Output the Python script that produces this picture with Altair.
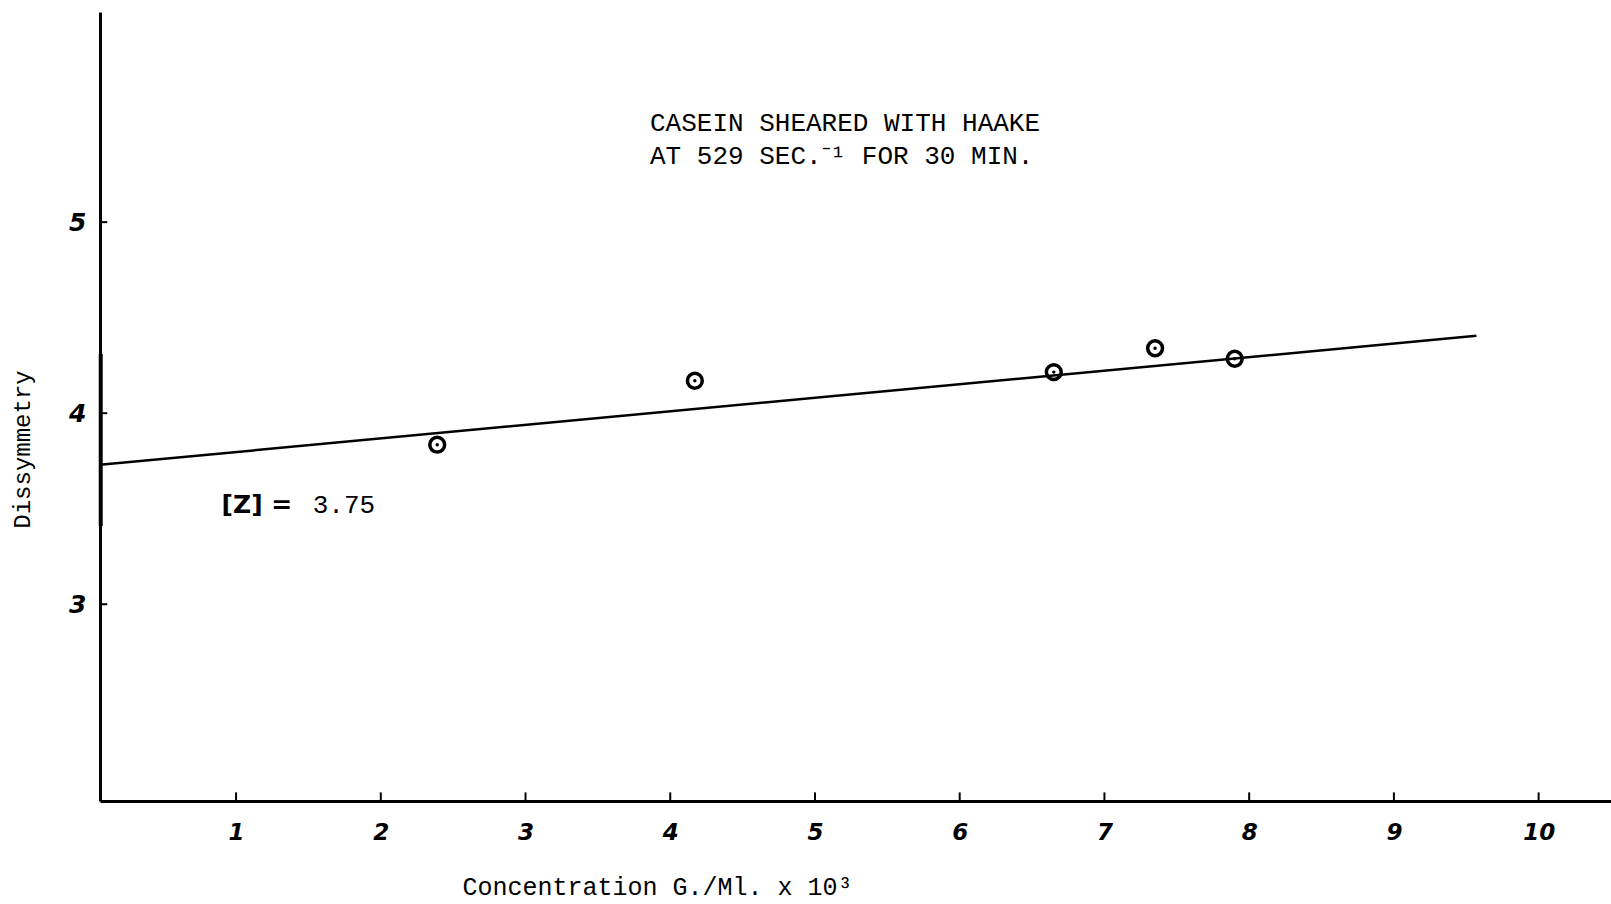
import altair as alt
import pandas as pd

# ---- data ----
conc = [2.39, 4.17, 6.65, 7.35, 7.90]
dissym = [3.835, 4.17, 4.215, 4.34, 4.285]
fit_x = [0.06, 9.57]
fit_y = [3.73, 4.405]
x_tick_vals = [1, 2, 3, 4, 5, 6, 7, 8, 9, 10]
y_tick_vals = [3, 4, 5]
title_lines = ["CASEIN SHEARED WITH HAAKE", "AT 529 SEC.⁻¹ FOR 30 MIN."]
title_x = [3.86, 3.86]
title_y = [5.52, 5.345]
note_labels = ["[Z] =", "3.75"]
note_x = [0.9, 1.53]
note_y = [3.52, 3.52]
intercept_mark = [3.41, 4.31]

X_DOM = [0.06, 10.5]
Y_DOM = [1.97, 6.10]
xs = alt.Scale(domain=X_DOM, nice=False, zero=False)
ys = alt.Scale(domain=Y_DOM, nice=False, zero=False)

x_axis = alt.Axis(
    title="Concentration G./Ml. x 10³",
    values=x_tick_vals, format="d", ticks=False, grid=False,
    domainColor="black", domainWidth=3,
    labelFont="DejaVu Sans", labelFontSize=23, labelFontWeight="bold",
    labelFontStyle="italic", labelColor="black", labelPadding=20,
    titleFont="Liberation Mono", titleFontSize=25, titleFontWeight="normal",
    titleColor="black", titleX=557, titleY=85, titleAlign="center",
    titleBaseline="middle")
y_axis = alt.Axis(
    title="Dissymmetry",
    values=y_tick_vals, format="d", ticks=False, grid=False,
    domainColor="black", domainWidth=3,
    labelFont="DejaVu Sans", labelFontSize=25, labelFontWeight="bold",
    labelFontStyle="italic", labelColor="black", labelPadding=14,
    titleFont="Liberation Mono", titleFontSize=24, titleFontWeight="normal",
    titleColor="black", titleX=-78, titleY=437, titleAngle=270,
    titleAlign="center", titleBaseline="middle")


def X(f):
    return alt.X(f, scale=xs, axis=x_axis)


def Y(f):
    return alt.Y(f, scale=ys, axis=y_axis)


pts = pd.DataFrame({"c": conc, "d": dissym})
fit = pd.DataFrame({"c": fit_x, "d": fit_y})
xt = pd.DataFrame({"c": x_tick_vals, "d": [Y_DOM[0]] * 10, "d1": [Y_DOM[0] + 0.045] * 10})
yt = pd.DataFrame({"d": y_tick_vals, "c": [X_DOM[0]] * 3, "c1": [X_DOM[0] + 0.05] * 3})
ttl = pd.DataFrame({"t": title_lines, "c": title_x, "d": title_y})
note = pd.DataFrame({"t": note_labels, "c": note_x, "d": note_y, "k": ["hand", "type"]})
icpt = pd.DataFrame({"c": [X_DOM[0] + 0.005], "d": [intercept_mark[0]], "d1": [intercept_mark[1]]})

points = alt.Chart(pts).mark_point(
    shape="circle", filled=False, size=220, strokeWidth=3.5, color="black", opacity=1
).encode(x=X("c:Q"), y=Y("d:Q"))

dots = alt.Chart(pts).mark_point(
    shape="circle", filled=True, size=12, color="black", opacity=1
).encode(x=X("c:Q"), y=Y("d:Q"))

line = alt.Chart(fit).mark_line(color="black", strokeWidth=2.5).encode(x=X("c:Q"), y=Y("d:Q"))

xticks = alt.Chart(xt).mark_rule(color="black", strokeWidth=2).encode(
    x=X("c:Q"), y=Y("d:Q"), y2="d1:Q")
yticks = alt.Chart(yt).mark_rule(color="black", strokeWidth=2).encode(
    y=Y("d:Q"), x=X("c:Q"), x2="c1:Q")
icpt_rule = alt.Chart(icpt).mark_rule(color="black", strokeWidth=4).encode(
    x=X("c:Q"), y=Y("d:Q"), y2="d1:Q")

title_text = alt.Chart(ttl).mark_text(
    font="Liberation Mono", fontSize=26, align="left", baseline="middle", color="black"
).encode(x=X("c:Q"), y=Y("d:Q"), text="t:N")

note_hand = alt.Chart(note[note.k == "hand"]).mark_text(
    font="DejaVu Sans", fontSize=25, fontWeight="bold", align="left",
    baseline="middle", color="black"
).encode(x=X("c:Q"), y=Y("d:Q"), text="t:N")
note_type = alt.Chart(note[note.k == "type"]).mark_text(
    font="Liberation Mono", fontSize=26, align="left", baseline="middle", color="black"
).encode(x=X("c:Q"), y=Y("d:Q"), text="t:N")

chart = alt.layer(
    points, dots, line, xticks, yticks, icpt_rule, title_text, note_hand, note_type
).properties(
    width=1511, height=789,
    autosize=alt.AutoSizeParams(type="none"),
    padding={"left": 100, "top": 12, "right": 0, "bottom": 103},
    background="white",
).configure_view(stroke=None)

chart.save("out.html", embed_options={"renderer": "svg", "actions": False})
